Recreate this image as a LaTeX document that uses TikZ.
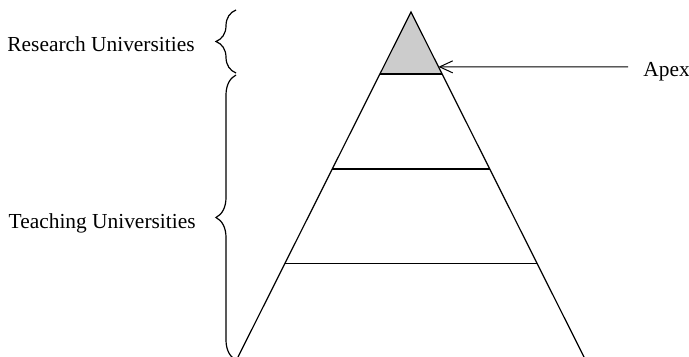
\documentclass[tikz,border=0pt]{standalone}
\usepackage{fontspec}
\setmainfont{Liberation Serif}
\usetikzlibrary{arrows.meta,calc,decorations.pathreplacing}
\definecolor{apexc}{HTML}{CCCCCC}
\tikzset{
  label/.style ={inner sep=0pt,font=\fontsize{10.7}{12}\selectfont},
  edge/.style  ={line width=0.6pt,black},
  grpbrace/.style={line width=0.6pt,decorate,decoration={brace,amplitude=10pt,aspect=0.5}},
  pointer/.style ={line width=0.5pt,-{Straight Barb[length=6.5pt,width=6pt]}},
}
\begin{document}
\begin{tikzpicture}[x=0.5pt,y=-0.5pt]
        \useasboundingbox (0,0) rectangle (689,357);
        % pyramid corners
        \coordinate (apex) at (411,12);
        \coordinate (bl) at (238,357);
        \coordinate (br) at (584,357);
        \coordinate (t1l) at ($(apex)!0.18!(bl)$);
        \coordinate (t1r) at ($(apex)!0.18!(br)$);
        \coordinate (t2l) at ($(apex)!0.455!(bl)$);
        \coordinate (t2r) at ($(apex)!0.455!(br)$);
        \coordinate (t3l) at ($(apex)!0.73!(bl)$);
        \coordinate (t3r) at ($(apex)!0.73!(br)$);
        \fill[apexc] (apex) -- (t1l) -- (t1r) -- cycle;
        \draw[edge] (bl) -- (apex) -- (br);
        \draw[edge] (t1l) -- (t1r);
        \draw[edge] (t2l) -- (t2r);
        \draw[edge] (t3l) -- (t3r);
        % labels
        \node[label,anchor=base east] (res) at (195,52) {Research Universities};
        \node[label,anchor=base east] (teach) at (196,229) {Teaching Universities};
        \node[label,anchor=base west] (apx) at (643,77) {Apex};
        % braces
        \draw[grpbrace] (236,73) -- (236,10);
        \draw[grpbrace] (236,360) -- (236,75);
        % arrow to apex
        \coordinate (from) at (628,67);
        \coordinate (tip) at ($(apex)!0.159!(br)$);
        \draw[pointer] (from) -- (tip);
      \end{tikzpicture}
\end{document}
